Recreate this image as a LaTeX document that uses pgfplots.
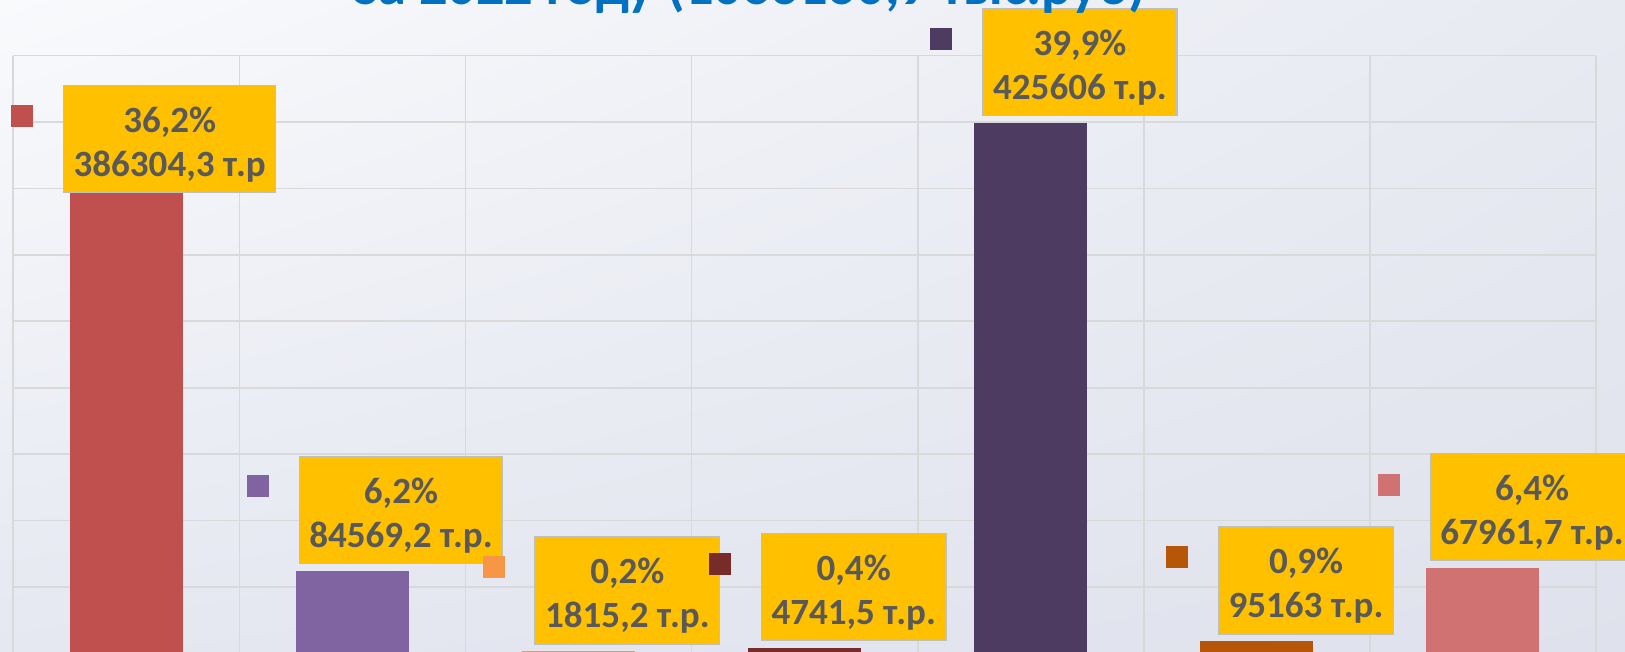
\documentclass[border=0pt]{standalone}
\usepackage{fontspec}
\setmainfont{Carlito}
\usepackage{pgfplots}
\pgfplotsset{compat=1.18}
\usetikzlibrary{shadings}
\definecolor{gridc}{HTML}{D9D9D9}
\definecolor{boxfill}{HTML}{FFC000}
\definecolor{boxdraw}{HTML}{BFBFBF}
\definecolor{txtc}{HTML}{595959}
\definecolor{titlec}{HTML}{0070C0}
\definecolor{c1}{HTML}{C0504D}
\definecolor{c2}{HTML}{8064A2}
\definecolor{c3}{HTML}{F79646}
\definecolor{c4}{HTML}{772C2A}
\definecolor{c5}{HTML}{4D3B62}
\definecolor{c6}{HTML}{B65708}
\definecolor{c7}{HTML}{D07172}
\definecolor{bgA}{HTML}{F9FAFC}
\definecolor{bgB}{HTML}{E8EAF2}
\definecolor{bgC}{HTML}{E5E8F1}
\definecolor{bgD}{HTML}{DFE2EC}
\newcommand{\st}{\rule{0pt}{18pt}}
\tikzset{lbl/.style={fill=boxfill, draw=boxdraw, line width=0.75pt, text=txtc,
  font=\fontsize{18.5}{22}\selectfont\bfseries, align=center, inner xsep=5pt,
  minimum height=53.5pt, anchor=center}}
\begin{document}
\begin{tikzpicture}
\path[use as bounding box] (-6.65pt,0.7pt) rectangle (805.85pt,326.7pt);
\clip (-6.65pt,0.7pt) rectangle (805.85pt,326.7pt);
\shade[upper left=bgA, upper right=bgB, lower left=bgC, lower right=bgD]
  (-6.65pt,0.7pt) rectangle (805.85pt,326.7pt);
\begin{axis}[at={(0,0)}, anchor=south west, scale only axis,
  width=791.35pt, height=298.9pt,
  xmin=-0.5, xmax=6.5, ymin=0, ymax=45,
  xtick={-0.5,0.5,1.5,2.5,3.5,4.5,5.5,6.5},
  ytick={0,5,10,15,20,25,30,35,40,45},
  xticklabel=\empty, yticklabel=\empty,
  grid=major, major grid style={draw=gridc, line width=0.85pt},
  axis line style={draw=none}, major tick length=0pt,
  clip=false]
\addplot[ybar, bar width=56.5pt, fill=c1, draw=none] coordinates {(0,36.2)};
\addplot[ybar, bar width=56.5pt, fill=c2, draw=none] coordinates {(1,6.2)};
\addplot[ybar, bar width=56.5pt, fill=c3, draw=none] coordinates {(2,0.2)};
\addplot[ybar, bar width=56.5pt, fill=c4, draw=none] coordinates {(3,0.4)};
\addplot[ybar, bar width=56.5pt, fill=c5, draw=none] coordinates {(4,39.9)};
\addplot[ybar, bar width=56.5pt, fill=c6, draw=none] coordinates {(5,0.9)};
\addplot[ybar, bar width=56.5pt, fill=c7, draw=none] coordinates {(6,6.4)};
% legend keys beside the labels
\addplot[only marks, mark=square*, mark size=5.25pt, color=c1] coordinates {(-0.4637,40.43)};
\addplot[only marks, mark=square*, mark size=5.25pt, color=c2] coordinates {(0.580,12.58)};
\addplot[only marks, mark=square*, mark size=5.25pt, color=c3] coordinates {(1.6238,6.48)};
\addplot[only marks, mark=square*, mark size=5.25pt, color=c4] coordinates {(2.6234,6.77)};
\addplot[only marks, mark=square*, mark size=5.25pt, color=c5] coordinates {(3.6008,46.29)};
\addplot[only marks, mark=square*, mark size=5.25pt, color=c6] coordinates {(4.6446,7.23)};
\addplot[only marks, mark=square*, mark size=5.25pt, color=c7] coordinates {(5.5823,12.71)};
\node[lbl] at (axis cs:0.1917,38.71) {\st 36,2\%\\386304,3 т.р};
\node[lbl] at (axis cs:1.2147,10.79) {\st 6,2\%\\84569,2 т.р.};
\node[lbl] at (axis cs:2.216,4.75) {\st 0,2\%\\1815,2 т.р.};
\node[lbl] at (axis cs:3.2169,5.00) {\st 0,4\%\\4741,5 т.р.};
\node[lbl] at (axis cs:4.2178,44.52) {\st 39,9\%\\425606 т.р.};
\node[lbl] at (axis cs:5.2174,5.50) {\st 0,9\%\\95163 т.р.};
\node[lbl] at (axis cs:6.217,11.02) {\st 6,4\%\\67961,7 т.р.};
\end{axis}
\node[anchor=base, text=titlec, font=\fontsize{28.2}{34}\selectfont\bfseries, inner sep=0pt]
  at (368.35pt,324.2pt) {за 2022 году (1066160,9 тыс.руб)};
\end{tikzpicture}
\end{document}
